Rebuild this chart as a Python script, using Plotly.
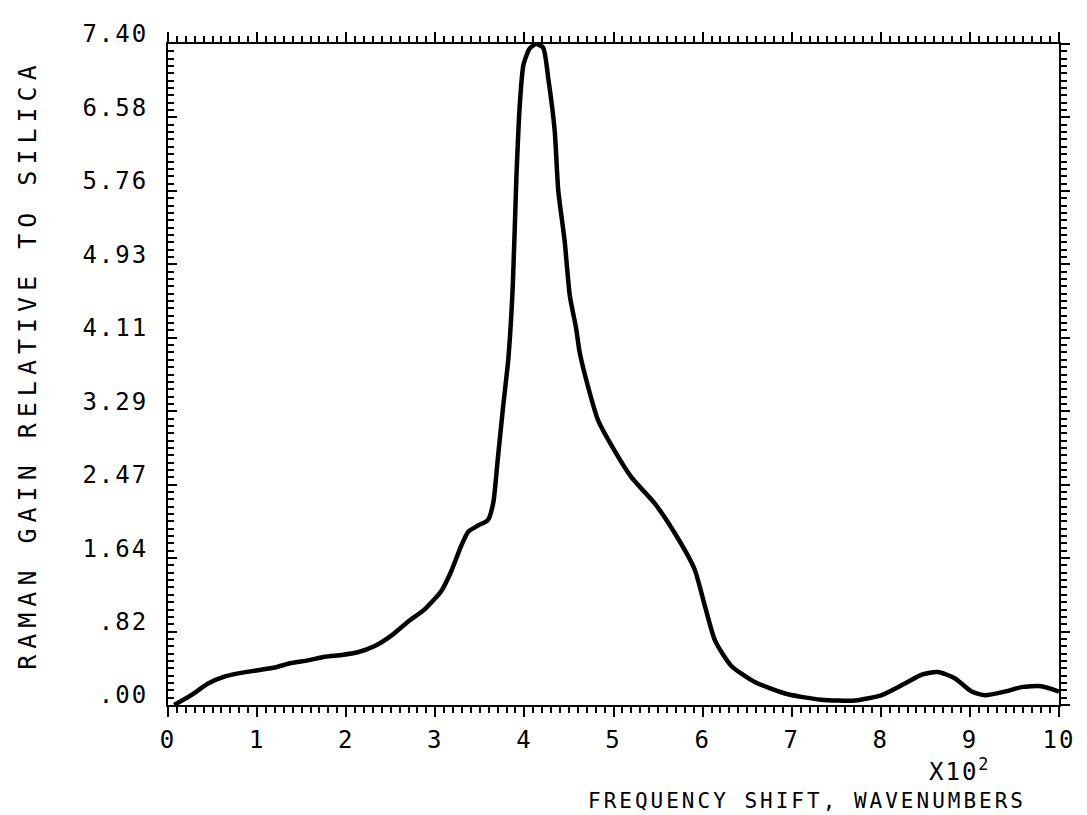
import plotly.graph_objects as go

# Frequency shift (x 10^2 wavenumbers) and Raman gain relative to silica
shift = [0.07, 0.26, 0.45, 0.64, 0.82, 1.01, 1.20, 1.38, 1.57, 1.76, 1.95, 2.13, 2.32, 2.51,
         2.69, 2.88, 3.07, 3.18, 3.29, 3.37, 3.48, 3.59, 3.65, 3.70, 3.76, 3.82, 3.87, 3.91,
         3.95, 3.99, 4.06, 4.13, 4.21, 4.27, 4.34, 4.38, 4.45, 4.51, 4.58, 4.62, 4.71, 4.83,
         5.01, 5.20, 5.46, 5.69, 5.91, 6.02, 6.14, 6.32, 6.58, 6.96, 7.33, 7.71, 8.01, 8.27,
         8.46, 8.64, 8.83, 9.02, 9.17, 9.39, 9.58, 9.80, 10.0]
gain = [0.00, 0.11, 0.24, 0.32, 0.36, 0.39, 0.42, 0.47, 0.50, 0.54, 0.56, 0.59, 0.66, 0.78,
        0.93, 1.07, 1.28, 1.50, 1.78, 1.94, 2.01, 2.07, 2.26, 2.74, 3.33, 3.88, 4.70, 5.90,
        6.75, 7.17, 7.35, 7.40, 7.36, 7.00, 6.43, 5.76, 5.21, 4.58, 4.22, 3.95, 3.58, 3.18,
        2.85, 2.55, 2.26, 1.92, 1.52, 1.13, 0.72, 0.44, 0.26, 0.12, 0.06, 0.05, 0.11, 0.24,
        0.34, 0.37, 0.30, 0.15, 0.11, 0.15, 0.20, 0.21, 0.15]

x_ticks = [0, 1, 2, 3, 4, 5, 6, 7, 8, 9, 10]
x_labels = ["0", "1", "2", "3", "4", "5", "6", "7", "8", "9", "10"]
y_labels = [".00", ".82", "1.64", "2.47", "3.29", "4.11", "4.93", "5.76", "6.58", "7.40"]

YMAX = 7.40
FONT = "DejaVu Sans Mono"


def sp(t, ls):
    return '<span style="letter-spacing:%dpx">%s</span>' % (ls, t)


fig = go.Figure()
fig.add_trace(go.Scatter(x=shift, y=gain, mode="lines",
                         line=dict(color="black", width=4.5, shape="spline", smoothing=0.6),
                         showlegend=False, hoverinfo="skip"))
fig.add_trace(go.Scatter(x=shift, y=gain, mode="lines", yaxis="y2",
                         line=dict(color="rgba(0,0,0,0)", width=0),
                         showlegend=False, hoverinfo="skip"))

n = len(y_labels) - 1
ytv = [YMAX * k / n for k in range(n + 1)]

fig.update_layout(
    width=1087, height=815,
    margin=dict(l=160, r=36, t=29, b=118),
    paper_bgcolor="white", plot_bgcolor="white",
    font=dict(family=FONT, color="black", size=24),
    xaxis=dict(range=[0, 10], tickvals=x_ticks, ticktext=[sp(t, 2) for t in x_labels],
               ticks="outside", ticklen=10, tickwidth=2, tickcolor="black",
               showline=True, linecolor="black", linewidth=2, mirror="ticks",
               showgrid=False, zeroline=False, ticklabelstandoff=2,
               minor=dict(dtick=0.1, ticklen=6, tickwidth=2, ticks="outside",
                          tickcolor="black", showgrid=False),
               tickfont=dict(family=FONT, size=24)),
    yaxis=dict(range=[0, YMAX], tickvals=ytv, ticktext=[sp(t, 2) for t in y_labels],
               ticks="inside", ticklen=9, tickwidth=2, tickcolor="black",
               showline=True, linecolor="black", linewidth=2, mirror=False,
               showgrid=False, zeroline=False, ticklabelstandoff=13, ticklabelshift=-10,
               minor=dict(dtick=YMAX / 90, ticklen=6, tickwidth=2, ticks="inside",
                          tickcolor="black", showgrid=False),
               tickfont=dict(family=FONT, size=24)),
    yaxis2=dict(range=[0, YMAX], overlaying="y", side="right", tickvals=ytv,
                showticklabels=False, ticks="outside", ticklen=9, tickwidth=2,
                tickcolor="black", showline=True, linecolor="black", linewidth=2,
                showgrid=False, zeroline=False,
                minor=dict(dtick=YMAX / 90, ticklen=6, tickwidth=2, ticks="outside",
                           tickcolor="black", showgrid=False)),
    annotations=[
        dict(text=sp("X10<sup>2</sup>", 2), xref="paper", yref="paper",
             x=0.888, y=-0.098, xanchor="center", yanchor="middle", showarrow=False,
             font=dict(family=FONT, size=24)),
        dict(text=sp("FREQUENCY SHIFT, WAVENUMBERS", 3), xref="paper", yref="paper",
             x=0.965, y=-0.145, xanchor="right", yanchor="middle", showarrow=False,
             font=dict(family=FONT, size=21)),
        dict(text=sp("RAMAN GAIN RELATIVE TO SILICA", 6), xref="paper", yref="paper",
             x=-0.158, y=0.515, xanchor="center", yanchor="middle", showarrow=False,
             textangle=-90, font=dict(family=FONT, size=25)),
    ],
)

fig.write_html("out.html")
